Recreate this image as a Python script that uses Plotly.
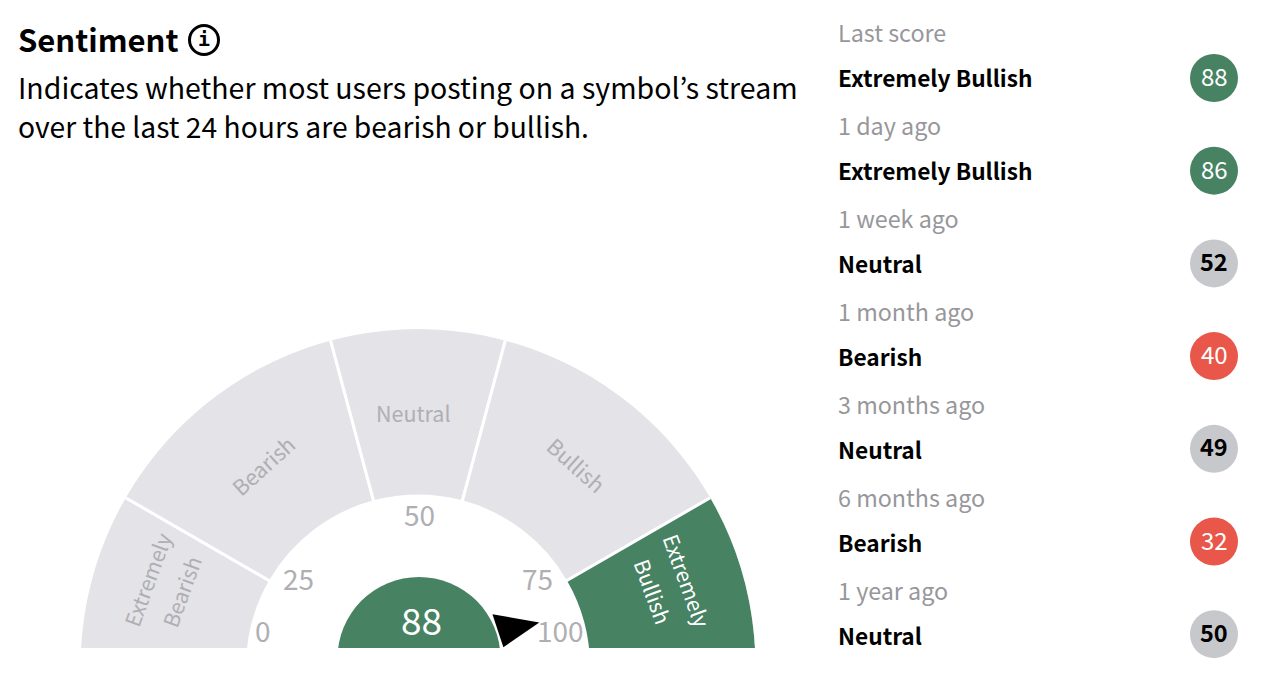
import plotly.graph_objects as go

# gauge bands, boundaries are degrees from the left end of the half circle
band_names = ['Extremely Bearish', 'Bearish', 'Neutral', 'Bullish', 'Extremely Bullish']
band_edges = [0, 30, 75, 105, 150, 180]
score = 88
tick_labels = ['0', '25', '50', '75', '100']

# history list on the right
periods = ['Last score', '1 day ago', '1 week ago', '1 month ago', '3 months ago', '6 months ago', '1 year ago']
moods = ['Extremely Bullish', 'Extremely Bullish', 'Neutral', 'Bearish', 'Neutral', 'Bearish', 'Neutral']
scores = [88, 86, 52, 40, 49, 32, 50]

FONT = 'Noto Sans CJK JP'
GREEN = '#478263'
RED = '#e8574a'
GREY = '#c7c8cc'
BAND = '#e3e3e8'
MUTED = '#afafb3'
mood_color = {'Extremely Bullish': GREEN, 'Bullish': GREEN, 'Neutral': GREY, 'Bearish': RED, 'Extremely Bearish': RED}

R_OUT = 337.5
R_IN = 172
CX, CY = 418, 666.5
ROW_Y = [78 + 92.7 * i for i in range(len(scores))]

fig = go.Figure()

# gauge bands
mids = [(a + b) / 2 for a, b in zip(band_edges, band_edges[1:])]
widths = [b - a for a, b in zip(band_edges, band_edges[1:])]
fig.add_trace(go.Barpolar(
    theta=mids, width=widths, base=[R_IN - 1.5] * 5, r=[R_OUT - R_IN + 3] * 5,
    marker=dict(color=[BAND, BAND, BAND, BAND, GREEN], line=dict(color='white', width=3)),
    hoverinfo='skip'))

# needle
needle = score * 1.8
fig.add_trace(go.Scatterpolar(
    r=[91, 129, 87.5, 91], theta=[needle - 13.5, needle + 1.7, needle + 8.9, needle - 13.5],
    mode='lines', fill='toself', fillcolor='black', line=dict(color='black', width=0),
    hoverinfo='skip'))

# score badges
fig.add_trace(go.Scatter(
    x=[1214] * len(scores), y=ROW_Y, mode='markers',
    marker=dict(size=48, color=[mood_color[m] for m in moods], line=dict(width=0)),
    hoverinfo='skip'))


def label(text, x, y, size, color='black', anchor='left', angle=0, weight=400, family=FONT):
    fig.add_annotation(x=x, y=y, xref='x', yref='y', text=text, showarrow=False, xanchor=anchor, yanchor='middle',
                       textangle=angle, font=dict(family=family, size=size, color=color, weight=weight))


label('Sentiment', 16, 38, 31, weight=600)
label('i', 204, 39, 20, anchor='center', weight=700, family='DejaVu Sans Mono')
label('Indicates whether most users posting on a symbol’s stream', 16, 86, 28.5)
label('over the last 24 hours are bearish or bullish.', 16, 125, 28.25)

for i in range(len(periods)):
    label(periods[i], 836, 32 + 93 * i, 23.3, color='#97979b')
    label(moods[i], 836, 77 + 93 * i, 22.7, weight=600)
    if moods[i] == 'Neutral':
        label(str(scores[i]), 1214, ROW_Y[i] - 2.5, 23.5, 'black', 'center', weight=600)
    else:
        label(str(scores[i]), 1214, ROW_Y[i] - 2.5, 24, 'white', 'center')

# band names
label('Extremely', 147, 580, 21, MUTED, 'center', -70)
label('Bearish', 181, 592, 21, MUTED, 'center', -70)
label(band_names[1], 262, 465, 21.5, MUTED, 'center', -42)
label(band_names[2], 413, 412, 21.5, MUTED, 'center')
label(band_names[3], 577, 464, 21.5, MUTED, 'center', 42)
label('Extremely', 687, 580, 21, 'white', 'center', 70)
label('Bullish', 653, 591, 21, 'white', 'center', 70)

# scale numbers
tick_pos = [(263, 630), (298, 578), (419, 514), (537, 578), (560, 630)]
for t, (tx, ty) in zip(tick_labels, tick_pos):
    label(t, tx, ty, 28, MUTED, 'center')
label(str(score), 421.5, 619, 37, 'white', 'center')

fig.update_layout(
    width=1268, height=698, margin=dict(l=0, r=0, t=0, b=0), paper_bgcolor='white', plot_bgcolor='white',
    showlegend=False,
    xaxis=dict(range=[0, 1268], visible=False, domain=[0, 1], fixedrange=True),
    yaxis=dict(range=[698, 0], visible=False, domain=[0, 1], fixedrange=True),
    polar=dict(
        domain=dict(x=[(CX - R_OUT) / 1268, (CX + R_OUT) / 1268], y=[(698 - CY) / 698, (698 - CY + R_OUT) / 698]),
        sector=[0, 180], bgcolor='white', hole=0,
        radialaxis=dict(visible=False, range=[0, R_OUT]),
        angularaxis=dict(visible=False, rotation=180, direction='clockwise')),
    shapes=[
        dict(type='circle', xref='x', yref='y', x0=337.5, x1=500.5, y0=577, y1=740, fillcolor=GREEN, line_width=0),
        dict(type='rect', xref='x', yref='y', x0=0, x1=800, y0=648, y1=698, fillcolor='white', line_width=0),
        dict(type='circle', xref='x', yref='y', x0=189.5, x1=218.5, y0=25.5, y1=54.5, line=dict(color='black', width=3)),
    ])

fig.write_html('out.html', config={'displayModeBar': False},
               post_script="document.body.style.margin='0';document.body.style.overflow='hidden';")
